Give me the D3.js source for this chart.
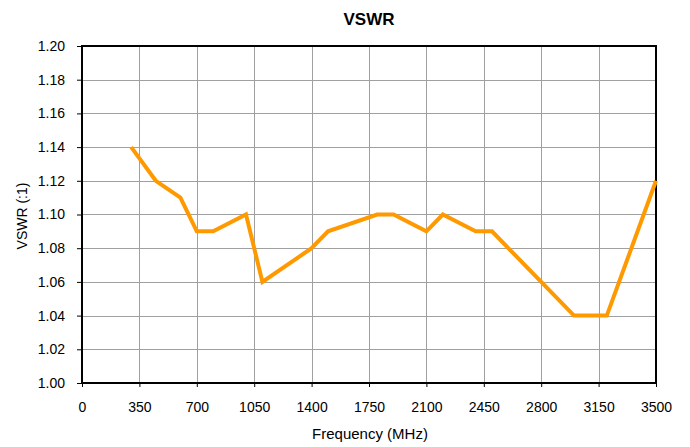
<!DOCTYPE html>
<html><head><meta charset="utf-8">
<script src="https://cdn.jsdelivr.net/npm/d3@7"></script>
<style>body{margin:0;background:#fff}svg{display:block;font-family:"Liberation Sans",Arial,sans-serif}</style>
</head><body><svg id="c" width="690" height="447"></svg>
<script>
const freqs = [300,450,600,700,800,1000,1100,1400,1500,1800,1900,2100,2200,2400,2500,2800,3000,3200,3500];
const vswr  = [1.14,1.12,1.11,1.09,1.09,1.10,1.06,1.08,1.09,1.10,1.10,1.09,1.10,1.09,1.09,1.06,1.04,1.04,1.12];
const xTicks = [0,350,700,1050,1400,1750,2100,2450,2800,3150,3500];
const yTicks = [1.00,1.02,1.04,1.06,1.08,1.10,1.12,1.14,1.16,1.18,1.20];

const svg = d3.select("#c");
const m = {l:82, r:656, t:46, b:383};
const x = d3.scaleLinear().domain([0,3500]).range([m.l,m.r]);
const y = d3.scaleLinear().domain([1.0,1.2]).range([m.b,m.t]);

// grid
svg.append("g").selectAll("line").data(xTicks.slice(1,-1)).join("line")
  .attr("x1",d=>Math.round(x(d))+0.5).attr("x2",d=>Math.round(x(d))+0.5)
  .attr("y1",m.t).attr("y2",m.b).attr("stroke","#a0a0a0").attr("stroke-width",1);
svg.append("g").selectAll("line").data(yTicks.slice(1,-1)).join("line")
  .attr("y1",d=>Math.round(y(d))+0.5).attr("y2",d=>Math.round(y(d))+0.5)
  .attr("x1",m.l).attr("x2",m.r).attr("stroke","#a0a0a0").attr("stroke-width",1);

// axes
const xa = svg.append("g").attr("transform",`translate(0,${m.b})`)
  .call(d3.axisBottom(x).tickValues(xTicks).tickFormat(d3.format("d")).tickSize(4).tickPadding(15));
const ya = svg.append("g").attr("transform",`translate(${m.l},0)`)
  .call(d3.axisLeft(y).tickValues(yTicks).tickFormat(d3.format(".2f")).tickSize(5).tickPadding(12));
[xa,ya].forEach(a=>{
  a.select(".domain").remove();
  a.selectAll("line").attr("stroke","#000");
  a.selectAll("text").attr("font-size",14).attr("fill","#000").attr("font-family","'Liberation Sans',Arial,sans-serif");
});

// frame
svg.append("rect").attr("x",m.l).attr("y",m.t).attr("width",m.r-m.l).attr("height",m.b-m.t)
  .attr("fill","none").attr("stroke","#000").attr("stroke-width",2);

// line
const pts = freqs.map((f,i)=>[f,vswr[i]]);
svg.append("path").datum(pts)
  .attr("d",d3.line().x(d=>x(d[0])).y(d=>y(d[1])))
  .attr("fill","none").attr("stroke","#FF9900").attr("stroke-width",4).attr("stroke-linejoin","miter");

// titles
svg.append("text").attr("x",369).attr("y",25).attr("text-anchor","middle")
  .attr("font-size",17).attr("font-weight","bold").text("VSWR");
svg.append("text").attr("x",370).attr("y",439).attr("text-anchor","middle")
  .attr("font-size",15).text("Frequency (MHz)");
svg.append("text").attr("transform","translate(26.5,216) rotate(-90)").attr("text-anchor","middle")
  .attr("font-size",14).text("VSWR (:1)");
</script></body></html>
